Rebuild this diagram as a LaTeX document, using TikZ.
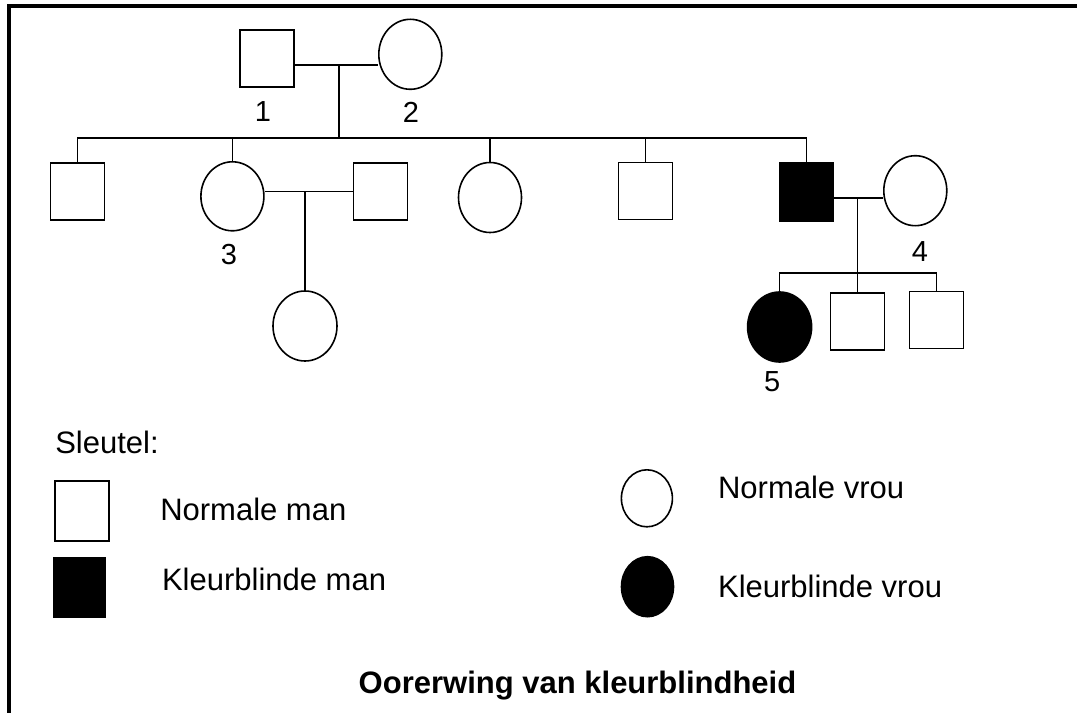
\documentclass[tikz,border=0pt]{standalone}
\usepackage{fontspec}
\setmainfont{Liberation Sans}
\usetikzlibrary{shapes.geometric}
\begin{document}
\begin{tikzpicture}[x=0.75pt,y=-0.75pt,
  sq/.style={draw, line width=1.2pt, rectangle, inner sep=0pt, minimum width=40.5pt, minimum height=42.75pt},
  ci/.style={draw, line width=1.2pt, ellipse, inner sep=0pt, minimum width=47.25pt, minimum height=52.5pt},
  aff/.style={fill=black},
  lbl/.style={font=\fontsize{21.75}{24}\selectfont, inner sep=0pt},
  txt/.style={font=\fontsize{23.25}{26}\selectfont, inner sep=0pt, anchor=base west},
  ttl/.style={font=\fontsize{23.25}{26}\selectfont\bfseries, inner sep=0pt, anchor=base},
  ln/.style={line width=1.2pt}]
\useasboundingbox (0,0) rectangle (1077,713);
% frame
\draw[line width=3pt, line join=miter] (8.7,713) -- (8.7,5.7) -- (1080,5.7);

% generation I
\node[sq] (I1) at (267.2,58.3) {};
\node[ci] (I2) at (410.3,54.3) {};
\node[lbl] (L1) at (263,112) {1};
\node[lbl] (L2) at (411,112) {2};

% generation II
\node[sq] (C1) at (77.6,191.3) {};
\node[ci, minimum height=51.75pt] (C2) at (232.4,196.3) {};
\node[sq] (S2) at (380.5,191.5) {};
\node[ci] (C3) at (490,197.5) {};
\node[sq] (C4) at (645.6,191) {};
\node[sq, aff, minimum height=43.5pt] (C5) at (806.6,192) {};
\node[ci] (W4) at (915.3,190.7) {};
\node[lbl] (L3) at (229,255) {3};
\node[lbl] (L4) at (920,251.7) {4};

% generation III
\node[ci, minimum width=48pt] (G) at (305,326) {};
\node[ci, aff, minimum width=48pt] (D5) at (779.6,327) {};
\node[sq] (D6) at (857.5,321.7) {};
\node[sq] (D7) at (936.5,320) {};
\node[lbl] (L5) at (772.2,381.7) {5};

% connectors
\coordinate (m1) at (339.2,65);
\coordinate (sib) at (339.2,138.3);
\draw[ln] (I1.east |- m1) -- (I2.west |- m1);
\draw[ln] (m1) -- (sib);
\draw[ln] (C1.north) -- (C1.north |- sib) -- (C5.north |- sib) -- (C5.north);
\foreach \n in {C2,C3,C4} \draw[ln] (\n.north) -- (\n.north |- sib);
\draw[ln] (C2.east |- S2.west) -- (S2.west);
\draw[ln] (G.north) -- (G.north |- S2.west);
\coordinate (m4) at (857.5,197.7);
\coordinate (sib2) at (857.5,272.7);
\draw[ln] (C5.east |- m4) -- (W4.west |- m4);
\draw[ln] (m4) -- (D6.north);
\draw[ln] (D5.north) -- (D5.north |- sib2) -- (D7.north |- sib2) -- (D7.north);

% key
\node[txt] (key) at (55,453.3) {Sleutel:};
\node[sq, minimum height=45pt] (K1) at (81.9,510.9) {};
\node[sq, aff, minimum width=38.25pt, minimum height=44.25pt] (K2) at (79.5,587.2) {};
\node[txt] (T1) at (160,520.3) {Normale man};
\node[txt] (T2) at (161.8,590.8) {Kleurblinde man};
\node[ci, minimum width=38.25pt, minimum height=42.75pt] (K3) at (646.9,498.3) {};
\node[ci, aff, minimum width=39pt, minimum height=45pt] (K4) at (647.5,586.7) {};
\node[txt] (T3) at (717.8,498.6) {Normale vrou};
\node[txt] (T4) at (717.8,597.7) {Kleurblinde vrou};

% title
\node[ttl] (title) at (577.5,693) {Oorerwing van kleurblindheid};
\end{tikzpicture}
\end{document}
